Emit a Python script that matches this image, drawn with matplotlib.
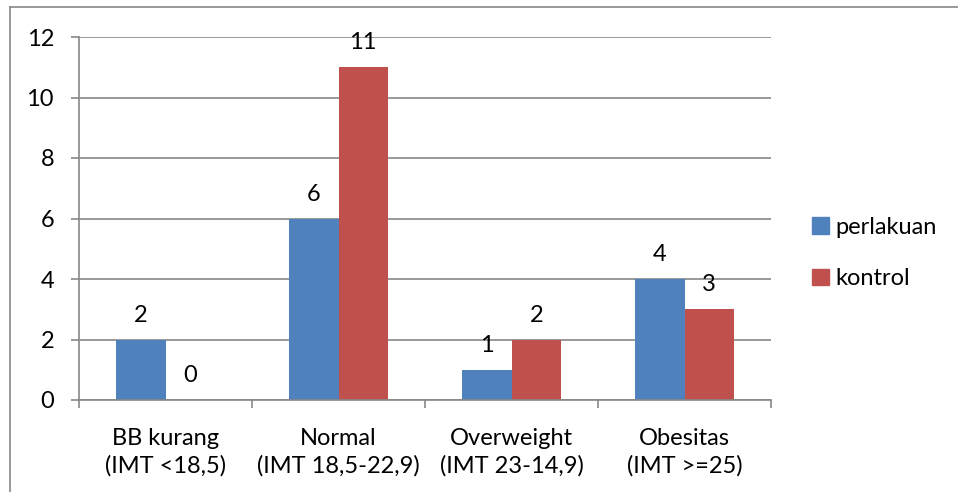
import numpy as np
import matplotlib.pyplot as plt
from matplotlib.lines import Line2D
from matplotlib.patches import Patch

categories = ["BB kurang\n(IMT <18,5)", "Normal\n(IMT 18,5-22,9)",
              "Overweight\n(IMT 23-14,9)", "Obesitas\n(IMT >=25)"]
perlakuan = [2, 6, 1, 4]
kontrol = [0, 11, 2, 3]
yticks = [0, 2, 4, 6, 8, 10, 12]

blue = "#4F81BD"
red = "#C0504D"
grey = "#878787"
fs = 17

plt.rcParams['font.family'] = ['Lato', 'DejaVu Sans']

W, H = 958, 492
fig = plt.figure(figsize=(W / 100, H / 100), dpi=100)
ax = fig.add_axes([79 / W, (H - 400) / H, 692 / W, 363 / H])

x = np.arange(len(categories))
bw = 1 / 3.5
b1 = ax.bar(x - bw / 2, perlakuan, bw, color=blue, label="perlakuan")
b2 = ax.bar(x + bw / 2, kontrol, bw, color=red, label="kontrol")

for bars, vals in ((b1, perlakuan), (b2, kontrol)):
    for r, v in zip(bars, vals):
        ax.annotate(str(v), (r.get_x() + r.get_width() / 2, v),
                    xytext=(0, 10), textcoords="offset points",
                    ha="center", va="bottom", fontsize=fs)

ax.set_xlim(-0.5, len(categories) - 0.5)
ax.set_ylim(0, 12)
ax.set_yticks(yticks)
ax.yaxis.grid(True, color=grey, linewidth=1.2)
ax.set_axisbelow(True)

ax.set_xticks(x)
ax.set_xticklabels(categories, fontsize=fs, linespacing=1.35)
ax.set_xticks(np.arange(len(categories) + 1) - 0.5, minor=True)
ax.tick_params(axis="x", which="major", length=0, pad=20)
ax.tick_params(axis="x", which="minor", length=6, width=1.2, color=grey)
ax.tick_params(axis="y", length=6, width=1.2, color=grey, labelsize=fs, pad=12)

for s in ("top", "right"):
    ax.spines[s].set_visible(False)
for s in ("left", "bottom"):
    ax.spines[s].set_color(grey)
    ax.spines[s].set_linewidth(1.2)

handles = [Patch(color=blue), Patch(color=red)]
fig.legend(handles, ["perlakuan", "kontrol"], loc="center left",
           bbox_to_anchor=(791 / W, 1 - 253 / H), frameon=False,
           fontsize=fs, handlelength=0.7, handleheight=0.7,
           handletextpad=0.3, labelspacing=1.3)

# outer chart frame (cropped: only top and left edges visible)
fig.add_artist(Line2D([10 / W, 10 / W], [0, 1 - 7 / H], color=grey, lw=1.2))
fig.add_artist(Line2D([10 / W, 1], [1 - 7 / H, 1 - 7 / H], color=grey, lw=1.2))

fig.savefig("out.png", dpi=100)
